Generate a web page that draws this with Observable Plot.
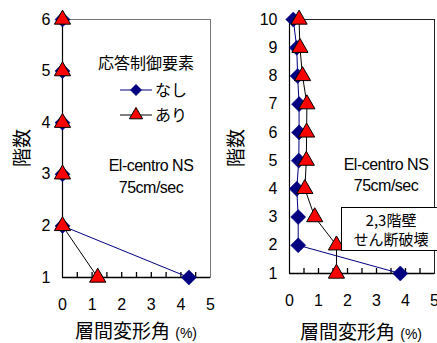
<!DOCTYPE html>
<html><head><meta charset="utf-8">
<script src="https://cdn.jsdelivr.net/npm/d3@7"></script>
<script src="https://cdn.jsdelivr.net/npm/@observablehq/plot@0.6"></script>
<style>
body{margin:0;background:#fff;}
#wrap{position:relative;width:437px;height:343px;overflow:hidden;font-family:"Liberation Sans","Noto Sans CJK JP",sans-serif;color:#000;}
.abs{position:absolute;white-space:nowrap;line-height:1;}
.c{transform:translate(-50%,-50%);text-align:center;}
.jp{font-family:"Noto Sans CJK JP",sans-serif;}
</style>
</head><body>
<div id="wrap"></div>
<script>
// ---- data ----
const floorsA = [1, 2, 3, 4, 5, 6];
const nashiA  = [4.27, 0, 0, 0, 0, 0];
const ariA    = [1.19, 0, 0, 0, 0, 0];

const floorsB = [1, 2, 3, 4, 5, 6, 7, 8, 9, 10];
const nashiB  = [3.82, 0.3, 0.3, 0.25, 0.32, 0.33, 0.33, 0.28, 0.25, 0.13];
const ariB    = [1.62, 1.62, 0.87, 0.53, 0.58, 0.59, 0.6, 0.45, 0.36, 0.33];

const xTicks = [0, 1, 2, 3, 4, 5];
const xMinor = [0.5, 1, 1.5, 2, 2.5, 3, 3.5, 4, 4.5];
const seriesNames = ["なし", "あり"];
const legendTitle = "応答制御要素";
const xTitle = "層間変形角";
const yTitle = "階数";
const quakeLines = ["El-centro NS", "75cm/sec"];
const noteLines = ["2,3階壁", "せん断破壊"];

const NAVY = "#000080", RED = "#ff0000";
const FONT = '"Liberation Sans","Noto Sans CJK JP",sans-serif';
const MINOR_LEN = 5;

function rows(floors, vals) { return floors.map((f, i) => ({floor: f, x: vals[i]})); }

function makeChart({floors, nashi, ari, width, mL, mR, mB, yMax, topStroke}) {
  const a = rows(floors, nashi), b = rows(floors, ari);
  const H = 343, mT = 19;
  return Plot.plot({
    width, height: H,
    marginLeft: mL, marginRight: mR, marginTop: mT, marginBottom: mB,
    style: {fontFamily: FONT, fontSize: "16px", background: "transparent", overflow: "visible"},
    x: {domain: [0, 5]},
    y: {domain: [1, yMax]},
    marks: [
      Plot.frame({stroke: topStroke, strokeWidth: 1}),
      Plot.tickX(xMinor, {x: d => d, stroke: "#000", strokeWidth: 1.3, insetTop: H - mT - mB - MINOR_LEN}),
      Plot.ruleX([0], {stroke: "#000", strokeWidth: 1.2}),
      Plot.ruleY([1], {stroke: "#000", strokeWidth: 1.6}),
      Plot.axisY({ticks: floors, tickSize: 0, tickPadding: 12, tickFormat: "d", label: null, fontSize: 16}),
      Plot.axisX({ticks: xTicks, tickSize: 0, tickPadding: 21, tickFormat: "d", label: null, fontSize: 16}),
      Plot.line(a, {x: "x", y: "floor", stroke: NAVY, strokeWidth: 1}),
      Plot.line(b, {x: "x", y: "floor", stroke: "#000", strokeWidth: 1}),
      Plot.dot(a, {x: "x", y: "floor", symbol: "diamond2", r: 6.8, fill: NAVY, stroke: NAVY, strokeWidth: 0.5}),
      Plot.dot(b, {x: "x", y: "floor", symbol: "triangle", r: 6, fill: RED, stroke: "#000", strokeWidth: 1})
    ]
  });
}

const wrap = document.getElementById("wrap");

const left = makeChart({floors: floorsA, nashi: nashiA, ari: ariA, width: 220, mL: 62, mR: 10, mB: 66, yMax: 6, topStroke: "#777"});
left.style.position = "absolute"; left.style.left = "0px"; left.style.top = "0px";
wrap.appendChild(left);

const right = makeChart({floors: floorsB, nashi: nashiB, ari: ariB, width: 217, mL: 69, mR: 3, mB: 70, yMax: 10, topStroke: "#222"});
right.style.position = "absolute"; right.style.left = "220px"; right.style.top = "0px";
wrap.appendChild(right);

function addText(html, x, y, size, extra = "") {
  const d = document.createElement("div");
  d.className = "abs c";
  d.style.left = x + "px"; d.style.top = y + "px"; d.style.fontSize = size + "px";
  d.style.cssText += extra;
  d.innerHTML = html;
  wrap.appendChild(d);
  return d;
}

// axis titles
addText(`<span class="jp">${xTitle}</span> <span style="font-size:14px">(%)</span>`, 136, 330, 19);
addText(`<span class="jp">${xTitle}</span> <span style="font-size:14px">(%)</span>`, 361, 331, 19);
addText(`<span class="jp">${yTitle}</span>`, 21, 148, 19, "transform:translate(-50%,-50%) rotate(-90deg);");
addText(`<span class="jp">${yTitle}</span>`, 235, 148, 19, "transform:translate(-50%,-50%) rotate(-90deg);");

// quake info
addText(quakeLines[0], 151, 166, 16, "letter-spacing:-0.5px;");
addText(quakeLines[1], 151, 188, 16, "letter-spacing:-0.5px;");
addText(quakeLines[0], 386, 165, 16, "letter-spacing:-0.5px;");
addText(quakeLines[1], 386, 186, 16, "letter-spacing:-0.5px;");

// legend (left chart)
addText(`<span class="jp">${legendTitle}</span>`, 146, 63, 16);
const lg = d3.create("svg").attr("width", 60).attr("height", 50)
  .style("position", "absolute").style("left", "115px").style("top", "75px");
const sym = (type, size) => d3.symbol(type, size)();
lg.append("line").attr("x1", 5).attr("x2", 37).attr("y1", 15).attr("y2", 15).attr("stroke", NAVY);
lg.append("path").attr("d", sym(d3.symbolDiamond2, 90)).attr("transform", "translate(21,15)").attr("fill", NAVY);
lg.append("line").attr("x1", 5).attr("x2", 37).attr("y1", 40).attr("y2", 40).attr("stroke", "#000");
lg.append("path").attr("d", sym(d3.symbolTriangle, 75)).attr("transform", "translate(21,40)").attr("fill", RED).attr("stroke", "#000");
wrap.appendChild(lg.node());
const t1 = addText(`<span class="jp">${seriesNames[0]}</span>`, 155, 90, 16); t1.style.transform = "translate(0,-50%)";
const t2 = addText(`<span class="jp">${seriesNames[1]}</span>`, 155, 115, 16); t2.style.transform = "translate(0,-50%)";

// note box (right chart)
const box = document.createElement("div");
box.className = "abs";
box.style.cssText += "left:341px;top:207px;width:100px;height:44px;border:1px solid #000;background:#fff;box-sizing:border-box;";
wrap.appendChild(box);
addText(`<span class="jp">${noteLines[0]}</span>`, 391, 220, 15);
addText(`<span class="jp">${noteLines[1]}</span>`, 391, 239, 15);
</script>
</body></html>
